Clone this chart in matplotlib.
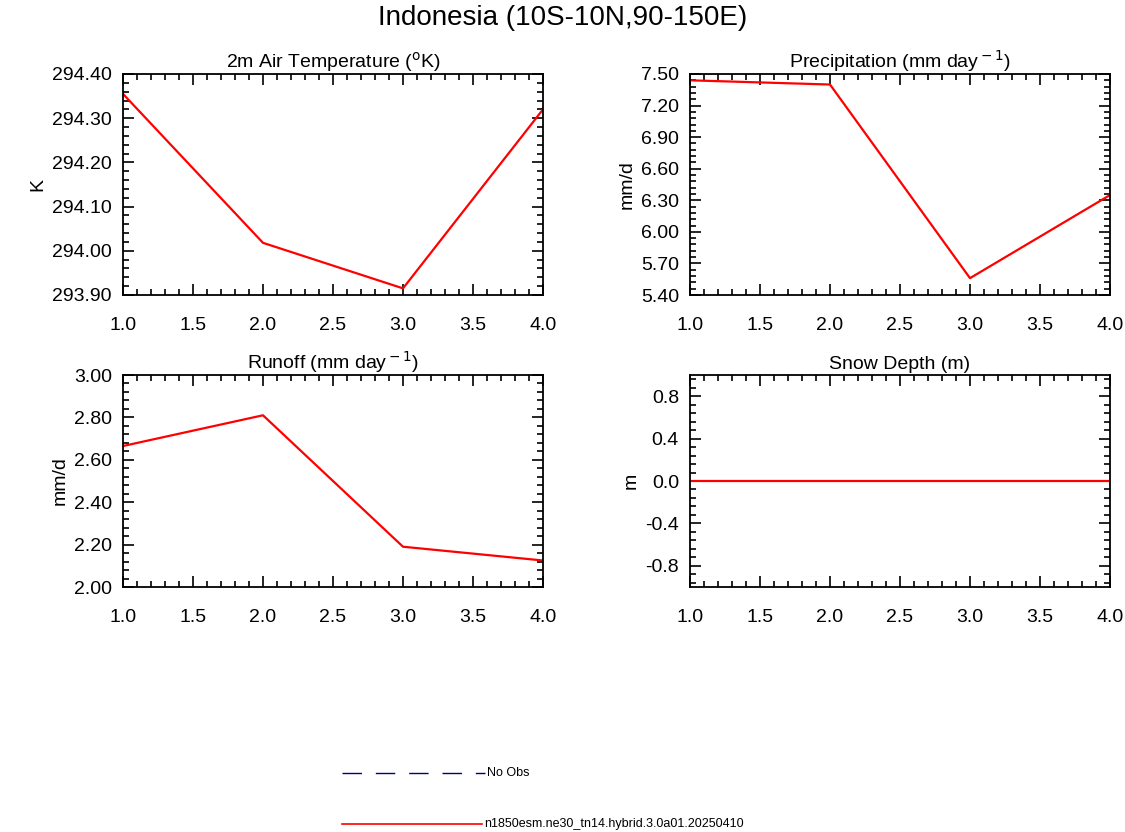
import matplotlib.pyplot as plt
from matplotlib.ticker import MultipleLocator, FormatStrFormatter

x = [1.0, 2.0, 3.0, 4.0]
temp = [294.355, 294.018, 293.915, 294.32]
precip = [7.44, 7.40, 5.56, 6.35]
runoff = [2.665, 2.81, 2.19, 2.125]
snow = [0.0, 0.0, 0.0, 0.0]

W, H = 1125, 832
fig = plt.figure(figsize=(W / 100, H / 100), dpi=100)
plt.rcParams['font.family'] = ['Liberation Sans', 'DejaVu Sans']

def box(l, t, r, b):
    return [l / W, 1 - b / H, (r - l) / W, (b - t) / H]

panels = [
    (box(123, 74, 543, 295), temp, (293.9, 294.4), 0.1, 0.02, '%.2f', 'K', '2m Air Temperature ($^{\\rm o}$K)'),
    (box(690, 74, 1110, 295), precip, (5.4, 7.5), 0.3, 0.06, '%.2f', 'mm/d', 'Precipitation (mm day$^{\\rm -1}$)'),
    (box(123, 375, 543, 587), runoff, (2.0, 3.0), 0.2, 0.04, '%.2f', 'mm/d', 'Runoff (mm day$^{\\rm -1}$)'),
    (box(690, 375, 1110, 587), snow, (-1.0, 1.0), 0.4, 0.08, '%.1f', 'm', 'Snow Depth (m)'),
]

for rect, y, ylim, major, minor, fmt, ylab, title in panels:
    ax = fig.add_axes(rect)
    ax.plot(x, y, color='red', lw=1.6)
    ax.set_xlim(1, 4)
    ax.set_ylim(*ylim)
    ax.xaxis.set_major_locator(MultipleLocator(0.5))
    ax.xaxis.set_minor_locator(MultipleLocator(0.1))
    ax.xaxis.set_major_formatter(FormatStrFormatter('%.1f'))
    if ylab == 'm':
        ax.set_yticks([-0.8, -0.4, 0.0, 0.4, 0.8])
    else:
        ax.yaxis.set_major_locator(MultipleLocator(major))
    ax.yaxis.set_minor_locator(MultipleLocator(minor))
    ax.yaxis.set_major_formatter(FormatStrFormatter(fmt))
    ax.tick_params(which='both', direction='in', top=True, right=True, labelsize=14, width=1.2)
    ax.tick_params(which='major', length=8)
    ax.tick_params(which='minor', length=4)
    ax.tick_params(axis='x', pad=16)
    ax.tick_params(axis='y', pad=8)
    for s in ax.spines.values():
        s.set_linewidth(1.3)
    ax.set_ylabel(ylab, fontsize=14)
    ax.set_title(title, fontsize=14, pad=4)

fig.text(0.5, 1 - 18 / H, 'Indonesia (10S-10N,90-150E)', ha='center', va='center', fontsize=20)

# legend
fig.add_artist(plt.Line2D([342 / W, 485 / W], [1 - 773 / H] * 2, color='navy', lw=1, ls=(0, (14, 10))))
fig.text(487 / W, 1 - 773 / H, 'No Obs', fontsize=9, va='center')
fig.add_artist(plt.Line2D([342 / W, 482 / W], [1 - 824 / H] * 2, color='red', lw=1.2))
fig.text(484 / W, 1 - 824 / H, 'n1850esm.ne30_tn14.hybrid.3.0a01.20250410', fontsize=9, va='center')

fig.savefig('out.png', dpi=100)
